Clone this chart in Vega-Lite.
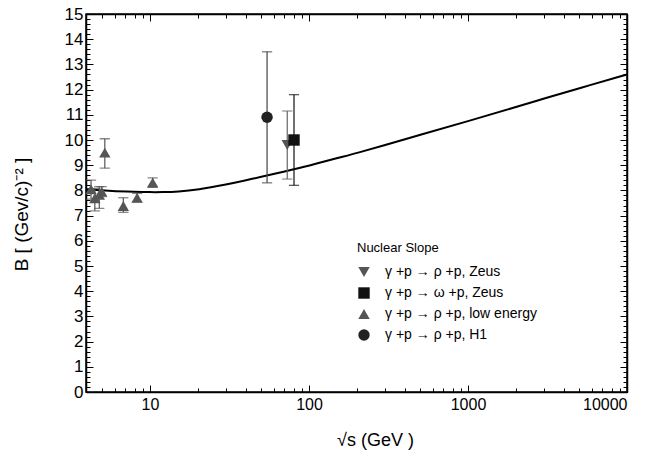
{
  "$schema": "https://vega.github.io/schema/vega-lite/v6.json",
  "width": 541,
  "height": 378,
  "autosize": "none",
  "padding": {"left": 86, "top": 14, "right": 22, "bottom": 62},
  "background": "white",
  "config": {
    "font": "Liberation Sans",
    "view": {"stroke": "black", "strokeWidth": 1.5},
    "axis": {"domainColor": "black", "domainWidth": 1.5, "tickColor": "black", "tickWidth": 1, "labelColor": "black", "titleColor": "black", "grid": false, "labelFont": "Liberation Sans", "titleFont": "Liberation Sans", "titleFontWeight": "normal"},
    "legend": {
      "titleFontSize": 13, "titleFontWeight": "normal", "titleColor": "black", "titleFont": "Liberation Sans", "titlePadding": 10,
      "labelFontSize": 14, "labelColor": "black", "labelFont": "Liberation Sans", "labelOffset": 14, "labelLimit": 300,
      "symbolSize": 130, "rowPadding": 7, "symbolStrokeWidth": 0
    }
  },
  "datasets": {
    "pts": [
      {"series": "γ +p → ρ +p, Zeus", "x": 73, "y": 9.8, "lo": 8.45, "hi": 11.15},
      {"series": "γ +p → ω +p, Zeus", "x": 80.5, "y": 10.0, "lo": 8.2, "hi": 11.8},
      {"series": "γ +p → ρ +p, H1", "x": 54.5, "y": 10.9, "lo": 8.3, "hi": 13.5},
      {"series": "γ +p → ρ +p, low energy", "x": 4.26, "y": 8.04, "lo": 7.65, "hi": 8.41},
      {"series": "γ +p → ρ +p, low energy", "x": 4.5, "y": 7.69, "lo": 7.19, "hi": 8.08},
      {"series": "γ +p → ρ +p, low energy", "x": 4.8, "y": 7.82, "lo": 7.29, "hi": 8.15},
      {"series": "γ +p → ρ +p, low energy", "x": 4.97, "y": 7.95, "lo": 7.75, "hi": 8.15},
      {"series": "γ +p → ρ +p, low energy", "x": 5.2, "y": 9.5, "lo": 8.88, "hi": 10.05},
      {"series": "γ +p → ρ +p, low energy", "x": 6.8, "y": 7.38, "lo": 7.13, "hi": 7.71},
      {"series": "γ +p → ρ +p, low energy", "x": 8.3, "y": 7.71, "lo": 7.55, "hi": 7.88},
      {"series": "γ +p → ρ +p, low energy", "x": 10.4, "y": 8.31, "lo": 8.12, "hi": 8.5}
    ],
    "curve": [
      {"x": 4, "y": 8.05}, {"x": 5, "y": 8.0}, {"x": 6, "y": 7.97}, {"x": 8, "y": 7.94},
      {"x": 10, "y": 7.93}, {"x": 12, "y": 7.93}, {"x": 15, "y": 7.95}, {"x": 20, "y": 8.03},
      {"x": 30, "y": 8.23}, {"x": 40, "y": 8.4}, {"x": 50, "y": 8.54}, {"x": 70, "y": 8.75},
      {"x": 100, "y": 8.98}, {"x": 150, "y": 9.28}, {"x": 200, "y": 9.48}, {"x": 300, "y": 9.8},
      {"x": 500, "y": 10.2}, {"x": 1000, "y": 10.75}, {"x": 2000, "y": 11.3}, {"x": 3000, "y": 11.65},
      {"x": 5000, "y": 12.05}, {"x": 10000, "y": 12.6}
    ]
  },
  "layer": [
    {
      "encoding": {
        "x": {
          "field": "x", "type": "quantitative",
          "scale": {"type": "log", "domain": [3.96, 10000], "nice": false},
          "axis": {
            "orient": "bottom",
            "title": "√s  (GeV )",
            "titleFontSize": 18, "titleX": 289, "titleY": 48, "titleAlign": "center", "titleBaseline": "middle",
            "values": [5,6,7,8,9,10,20,30,40,50,60,70,80,90,100,200,300,400,500,600,700,800,900,1000,2000,3000,4000,5000,6000,7000,8000,9000,10000],
            "labelExpr": "(datum.value==10||datum.value==100||datum.value==1000||datum.value==10000) ? format(datum.value,'d') : ''",
            "labelFontSize": 16, "labelPadding": 11,
            "tickSize": {"condition": {"test": "datum.value==10||datum.value==100||datum.value==1000||datum.value==10000", "value": -7}, "value": -4}
          }
        },
        "y": {
          "field": "y", "type": "quantitative",
          "scale": {"domain": [0, 15], "nice": false, "zero": false},
          "axis": {
            "orient": "left",
            "title": "B [ (Gev/c)⁻² ]",
            "titleFontSize": 19, "titleX": -65, "titleY": 200, "titleAlign": "center", "titleBaseline": "middle", "titleAngle": -90,
            "values": [0,0.2,0.4,0.6,0.8,1,1.2,1.4,1.6,1.8,2,2.2,2.4,2.6,2.8,3,3.2,3.4,3.6,3.8,4,4.2,4.4,4.6,4.8,5,5.2,5.4,5.6,5.8,6,6.2,6.4,6.6,6.8,7,7.2,7.4,7.6,7.8,8,8.2,8.4,8.6,8.8,9,9.2,9.4,9.6,9.8,10,10.2,10.4,10.6,10.8,11,11.2,11.4,11.6,11.8,12,12.2,12.4,12.6,12.8,13,13.2,13.4,13.6,13.8,14,14.2,14.4,14.6,14.8,15],
            "labelExpr": "datum.value % 1 == 0 ? format(datum.value,'d') : ''",
            "labelFontSize": 17, "labelPadding": 10,
            "tickSize": {"condition": {"test": "datum.value % 1 == 0", "value": -7}, "value": -4}
          }
        }
      },
      "layer": [
        {
          "data": {"name": "curve"},
          "mark": {"type": "line", "color": "black", "strokeWidth": 2, "interpolate": "basis"},
          "encoding": {}
        },
        {
          "data": {"name": "pts"},
          "mark": {"type": "rule", "strokeWidth": 1.2},
          "encoding": {
            "y": {"field": "lo", "type": "quantitative"},
            "y2": {"field": "hi"},
            "stroke": {"field": "series", "type": "nominal", "legend": null,
              "scale": {"domain": ["γ +p → ρ +p, H1", "γ +p → ρ +p, Zeus", "γ +p → ρ +p, low energy", "γ +p → ω +p, Zeus"], "range": ["#444444", "#666666", "#555555", "#111111"]}}
          }
        },
        {
          "data": {"name": "pts"},
          "mark": {"type": "tick", "orient": "horizontal", "size": 9, "thickness": 0.1, "filled": false, "strokeWidth": 1.2},
          "encoding": {
            "y": {"field": "lo", "type": "quantitative"},
            "stroke": {"field": "series", "type": "nominal", "legend": null}
          }
        },
        {
          "data": {"name": "pts"},
          "mark": {"type": "tick", "orient": "horizontal", "size": 9, "thickness": 0.1, "filled": false, "strokeWidth": 1.2},
          "encoding": {
            "y": {"field": "hi", "type": "quantitative"},
            "stroke": {"field": "series", "type": "nominal", "legend": null}
          }
        },
        {
          "data": {"name": "pts"},
          "mark": {"type": "point", "filled": true, "size": 130, "opacity": 1},
          "encoding": {
            "color": {
              "field": "series", "type": "nominal",
              "scale": {"domain": ["γ +p → ρ +p, Zeus", "γ +p → ω +p, Zeus", "γ +p → ρ +p, low energy", "γ +p → ρ +p, H1"], "range": ["#555555", "#111111", "#555555", "#222222"]},
              "legend": {"title": "Nuclear Slope", "orient": "none", "legendX": 271, "legendY": 228}
            },
            "shape": {
              "field": "series", "type": "nominal",
              "scale": {"domain": ["γ +p → ρ +p, Zeus", "γ +p → ω +p, Zeus", "γ +p → ρ +p, low energy", "γ +p → ρ +p, H1"], "range": ["triangle-down", "square", "triangle-up", "circle"]},
              "legend": {"title": "Nuclear Slope", "orient": "none", "legendX": 271, "legendY": 228}
            }
          }
        }
      ]
    },
    {
      "data": {"name": "curve"},
      "mark": {"type": "line", "opacity": 0},
      "encoding": {
        "x": {
          "field": "x", "type": "quantitative",
          "scale": {"type": "log", "domain": [3.96, 10000], "nice": false},
          "axis": {
            "orient": "top", "title": null, "labels": false,
            "values": [5,6,7,8,9,10,20,30,40,50,60,70,80,90,100,200,300,400,500,600,700,800,900,1000,2000,3000,4000,5000,6000,7000,8000,9000,10000],
            "tickSize": {"condition": {"test": "datum.value==10||datum.value==100||datum.value==1000||datum.value==10000", "value": -7}, "value": -4}
          }
        },
        "y": {
          "field": "y", "type": "quantitative",
          "scale": {"domain": [0, 15], "nice": false, "zero": false},
          "axis": {
            "orient": "right", "title": null, "labels": false,
            "values": [0,0.2,0.4,0.6,0.8,1,1.2,1.4,1.6,1.8,2,2.2,2.4,2.6,2.8,3,3.2,3.4,3.6,3.8,4,4.2,4.4,4.6,4.8,5,5.2,5.4,5.6,5.8,6,6.2,6.4,6.6,6.8,7,7.2,7.4,7.6,7.8,8,8.2,8.4,8.6,8.8,9,9.2,9.4,9.6,9.8,10,10.2,10.4,10.6,10.8,11,11.2,11.4,11.6,11.8,12,12.2,12.4,12.6,12.8,13,13.2,13.4,13.6,13.8,14,14.2,14.4,14.6,14.8,15],
            "tickSize": {"condition": {"test": "datum.value % 1 == 0", "value": -7}, "value": -4}
          }
        }
      }
    }
  ],
  "resolve": {"scale": {"x": "independent", "y": "independent"}}
}
